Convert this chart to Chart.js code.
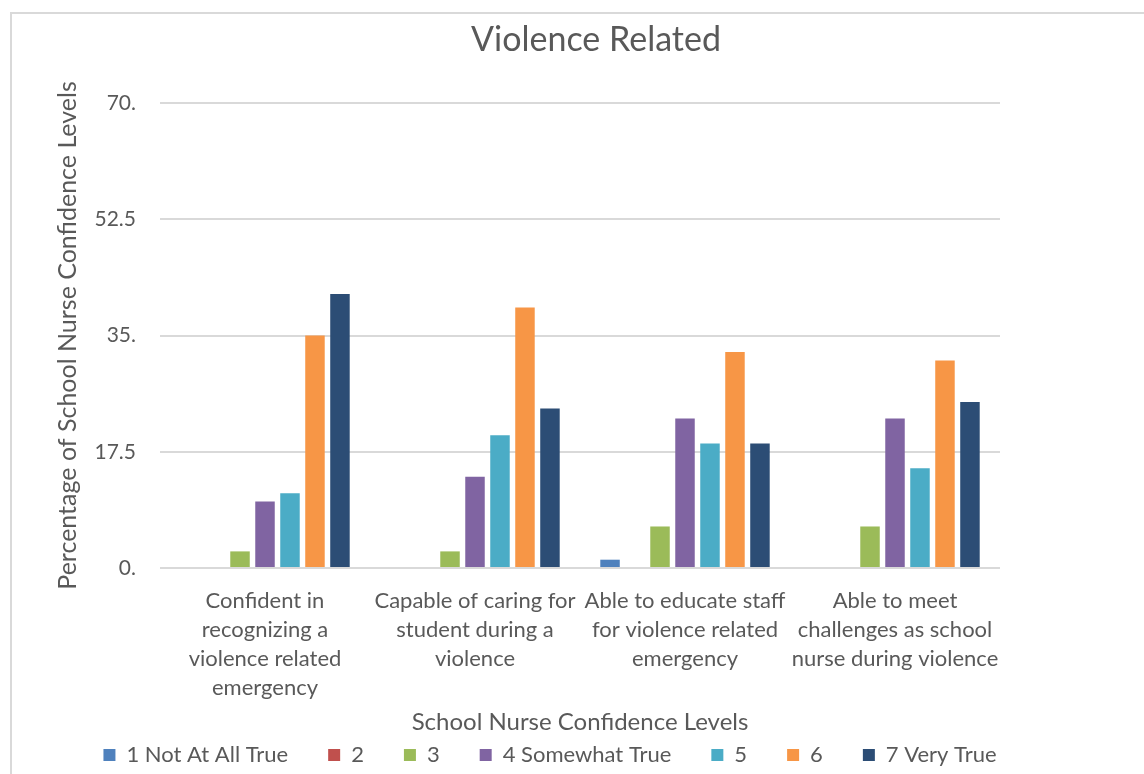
<!DOCTYPE html>
<html>
<head>
<meta charset="utf-8">
<script src="https://cdn.jsdelivr.net/npm/chart.js@4.4.1/dist/chart.umd.min.js"></script>
<style>
  html, body { margin: 0; padding: 0; background: #fff; overflow: hidden; width: 1144px; height: 774px; }
  #wrap { position: absolute; left: 10px; top: 12px; border-left: 2px solid #d9d9d9; border-top: 2px solid #d9d9d9; }
  #chart { display: block; }
</style>
</head>
<body>
<div id="wrap"><canvas id="chart" width="1168" height="760"></canvas></div>
<script>
// data (percent of school nurses)
const categories = [
    ['Confident in', 'recognizing a', 'violence related', 'emergency'],
    ['Capable of caring for', 'student during a', 'violence'],
    ['Able to educate staff', 'for violence related', 'emergency'],
    ['Able to meet', 'challenges as school', 'nurse during violence']
];
const seriesNames = ['1 Not At All True', '2', '3', '4 Somewhat True', '5', '6', '7 Very True'];
const seriesColors = ['#4F81BD', '#C0504D', '#9BBB59', '#8064A2', '#4BACC6', '#F79646', '#2C4D75'];

const level1 = [0, 0, 1.25, 0];
const level2 = [0, 0, 0, 0];
const level3 = [2.5, 2.5, 6.25, 6.25];
const level4 = [10, 13.75, 22.5, 22.5];
const level5 = [11.25, 20, 18.75, 15];
const level6 = [35, 39.2, 32.5, 31.25];
const level7 = [41.25, 24, 18.75, 25];

const yTicks = [0, 17.5, 35, 52.5, 70];
const yTickLabels = ['0.', '17.5', '35.', '52.5', '70.'];

const textColor = '#595959';
const fontFamily = 'Lato, "Open Sans", sans-serif';

const allLevels = [level1, level2, level3, level4, level5, level6, level7];
const datasets = allLevels.map((vals, i) => ({
    label: seriesNames[i],
    data: vals,
    backgroundColor: seriesColors[i],
    borderWidth: 0,
    barPercentage: 0.78,
    categoryPercentage: 0.833
}));

// Excel places title and legend off the plot centre, move them a bit
const boxShift = {
    id: 'boxShift',
    afterUpdate(chart) {
        const lg = chart.legend;
        lg.left += 44;
        lg.right += 44;
        lg.top -= 6;
        lg.bottom -= 6;
        const tt = chart.titleBlock;
        tt.left += 90;
        tt.right += 90;
    }
};

Chart.defaults.font.family = fontFamily;
Chart.defaults.color = textColor;

const ctx = document.getElementById('chart').getContext('2d');
const chart = new Chart(ctx, {
    type: 'bar',
    data: { labels: categories, datasets: datasets },
    plugins: [boxShift],
    options: {
        responsive: false,
        animation: false,
        layout: { padding: { left: 0, right: 180, top: 0, bottom: -8 } },
        plugins: {
            title: {
                display: true,
                text: 'Violence Related',
                color: textColor,
                font: { size: 34, weight: 'normal' },
                padding: { top: 5.6, bottom: 42.6 }
            },
            legend: {
                position: 'bottom',
                labels: {
                    boxWidth: 12,
                    boxHeight: 12,
                    padding: 40,
                    color: textColor,
                    font: { size: 22 }
                }
            },
            tooltip: { enabled: false }
        },
        scales: {
            x: {
                grid: { display: false },
                border: { display: false },
                ticks: {
                    color: textColor,
                    font: { size: 22, lineHeight: 1.32 },
                    padding: 10,
                    maxRotation: 0,
                    autoSkip: false
                },
                title: {
                    display: true,
                    text: 'School Nurse Confidence Levels',
                    color: textColor,
                    font: { size: 24 },
                    padding: { top: 9, bottom: -27 }
                },
                afterFit(scale) { scale.height = 142; }
            },
            y: {
                min: 0,
                max: 70,
                grid: { color: '#d9d9d9', lineWidth: 2, drawTicks: false },
                border: { display: false },
                afterBuildTicks(scale) {
                    scale.ticks = yTicks.map(v => ({ value: v }));
                },
                ticks: {
                    color: textColor,
                    font: { size: 21 },
                    padding: 24,
                    callback: (v) => yTickLabels[yTicks.indexOf(v)]
                },
                title: {
                    display: true,
                    text: 'Percentage of School Nurse Confidence Levels',
                    color: textColor,
                    font: { size: 25 },
                    padding: { top: 41, bottom: 0 }
                },
                afterFit(scale) { scale.width = 148; }
            }
        }
    }
});
</script>
</body>
</html>
